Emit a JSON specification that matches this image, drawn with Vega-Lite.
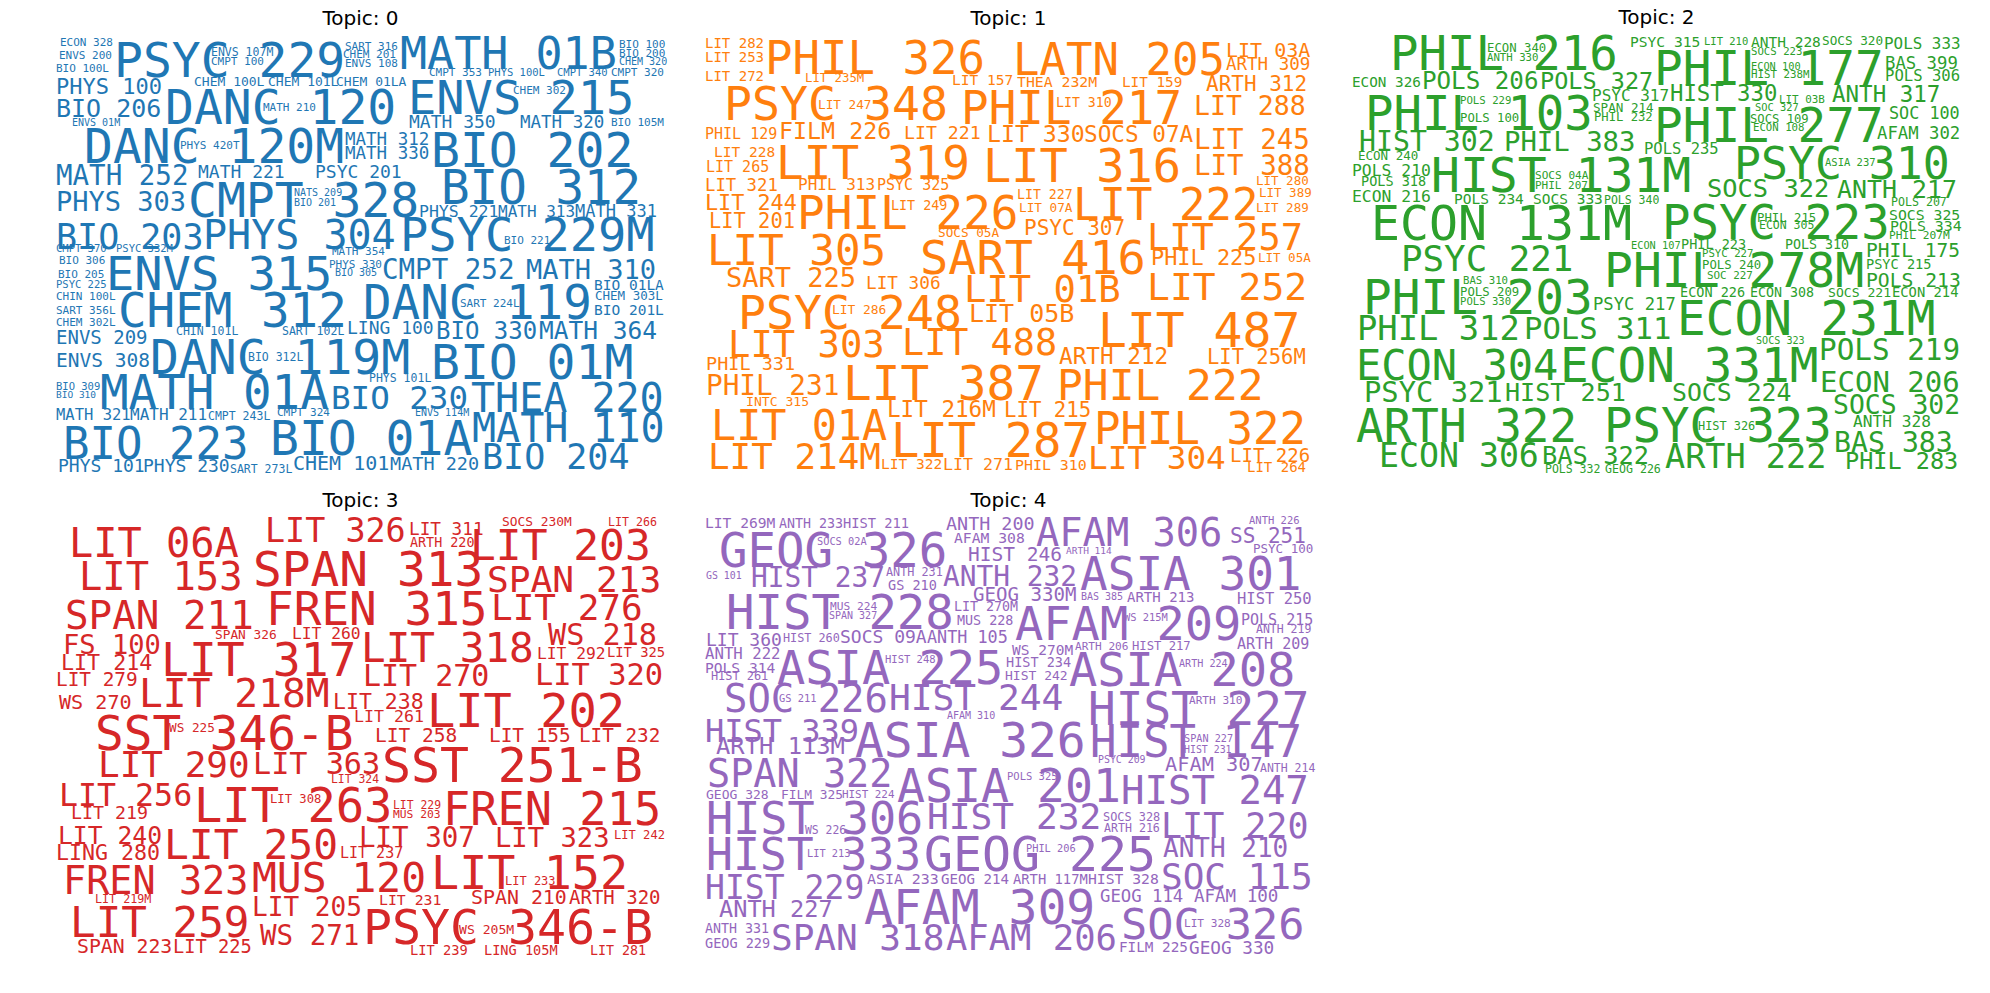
{
"$schema": "https://vega.github.io/schema/vega-lite/v6.json",
"padding": {"left": 55, "top": 8, "right": 5, "bottom": 5},
"background": "white",
"bounds": "flush",
"spacing": {"row": 43, "column": 37},
"columns": 3,
"config": {"view": {"stroke": null}, "title": {"fontSize": 20, "font": "DejaVu Sans", "fontWeight": "normal", "color": "black", "offset": 4, "anchor": "middle"}},
"resolve": {"scale": {"x": "independent", "y": "independent"}},
"datasets": {
"t0": [
{"w":"ECON 328","x":60,"y":44,"s":11},{"w":"ENVS 200","x":59,"y":57,"s":11},{"w":"BIO 100L","x":56,"y":70,"s":11},{"w":"PSYC 229","x":114,"y":75,"s":48},{"w":"ENVS 107M","x":211,"y":54,"s":11.5},{"w":"CMPT 100","x":211,"y":63,"s":11},{"w":"SART 316","x":345,"y":48,"s":11},{"w":"CHEM 201","x":343,"y":56,"s":11},{"w":"ENVS 108","x":345,"y":65,"s":11},{"w":"MATH 01B","x":400,"y":67,"s":45},{"w":"BIO 100","x":619,"y":46,"s":11},{"w":"BIO 200","x":619,"y":55,"s":11},{"w":"CHEM 320","x":619,"y":63,"s":10},{"w":"CMPT 320","x":611,"y":74,"s":11},{"w":"CMPT 353","x":429,"y":74,"s":11},{"w":"PHYS 100L","x":488,"y":74,"s":10.5},{"w":"CMPT 340","x":557,"y":74,"s":10.5},{"w":"PHYS 100","x":56,"y":92,"s":22},{"w":"CHEM 100L","x":194,"y":84,"s":13},{"w":"CHEM 101L","x":268,"y":84,"s":13},{"w":"CHEM 01LA","x":336,"y":84,"s":13},{"w":"ENVS 215","x":408,"y":112,"s":47},{"w":"CHEM 302","x":513,"y":92,"s":11},{"w":"BIO 206","x":56,"y":115,"s":25},{"w":"DANC 120","x":165,"y":122,"s":48},{"w":"MATH 210","x":263,"y":109,"s":11},{"w":"ENVS 01M","x":72,"y":124,"s":10},{"w":"MATH 350","x":409,"y":126,"s":18},{"w":"MATH 320","x":520,"y":126,"s":17.5},{"w":"BIO 105M","x":611,"y":124,"s":11},{"w":"DANC 120M","x":84,"y":161,"s":48},{"w":"PHYS 420T","x":180,"y":147,"s":11},{"w":"MATH 312","x":345,"y":143,"s":17.5},{"w":"MATH 330","x":345,"y":157,"s":17.5},{"w":"BIO 202","x":431,"y":165,"s":48},{"w":"MATH 252","x":56,"y":183,"s":27.5},{"w":"MATH 221","x":198,"y":176,"s":18},{"w":"PSYC 201","x":315,"y":176,"s":18},{"w":"BIO 312","x":441,"y":202,"s":47.5},{"w":"PHYS 303","x":56,"y":209,"s":27},{"w":"CMPT 328","x":188,"y":215,"s":48},{"w":"NATS 209","x":294,"y":194,"s":10},{"w":"BIO 201","x":294,"y":204,"s":10},{"w":"PHYS 221","x":419,"y":215,"s":16.5},{"w":"MATH 313","x":498,"y":215,"s":16},{"w":"MATH 331","x":575,"y":215,"s":17},{"w":"BIO 203","x":56,"y":247,"s":35},{"w":"PHYS 304","x":203,"y":247,"s":40},{"w":"PSYC 229M","x":400,"y":249,"s":47},{"w":"BIO 221","x":504,"y":242,"s":11},{"w":"CMPT 370","x":56,"y":250,"s":10.5},{"w":"PSYC 332M","x":116,"y":250,"s":10.5},{"w":"MATH 354","x":332,"y":253,"s":11},{"w":"BIO 306","x":59,"y":262,"s":11},{"w":"ENVS 315","x":106,"y":288,"s":47},{"w":"PHYS 330","x":329,"y":266,"s":11},{"w":"BIO 305","x":335,"y":274,"s":10},{"w":"CMPT 252","x":382,"y":277,"s":27.5},{"w":"MATH 310","x":526,"y":277,"s":27},{"w":"BIO 205","x":58,"y":276,"s":11},{"w":"PSYC 225","x":56,"y":286,"s":10.5},{"w":"CHIN 100L","x":56,"y":298,"s":11},{"w":"CHEM 312","x":118,"y":325,"s":47.5},{"w":"DANC 119","x":363,"y":317,"s":47.5},{"w":"SART 224L","x":460,"y":305,"s":11},{"w":"BIO 01LA","x":594,"y":288,"s":14.5},{"w":"CHEM 303L","x":595,"y":298,"s":12.5},{"w":"BIO 201L","x":594,"y":313,"s":14.5},{"w":"SART 356L","x":56,"y":312,"s":11},{"w":"CHEM 302L","x":56,"y":324,"s":11},{"w":"CHIN 101L","x":176,"y":333,"s":11.5},{"w":"SART 102L","x":282,"y":333,"s":11.5},{"w":"LING 100","x":347,"y":332,"s":18},{"w":"BIO 330","x":436,"y":337,"s":24},{"w":"MATH 364","x":539,"y":337,"s":24.5},{"w":"ENVS 209","x":56,"y":342,"s":19},{"w":"DANC 119M","x":150,"y":372,"s":48},{"w":"BIO 312L","x":248,"y":359,"s":11.5},{"w":"BIO 01M","x":431,"y":377,"s":48},{"w":"ENVS 308","x":56,"y":365,"s":19.5},{"w":"PHYS 101L","x":369,"y":380,"s":11.5},{"w":"BIO 309","x":56,"y":388,"s":10.5},{"w":"BIO 310","x":56,"y":396,"s":9.5},{"w":"MATH 01A","x":100,"y":407,"s":47.5},{"w":"BIO 230","x":331,"y":407,"s":32.5},{"w":"THEA 220","x":471,"y":410,"s":40},{"w":"MATH 321","x":56,"y":418,"s":15.5},{"w":"MATH 211","x":130,"y":418,"s":16},{"w":"CMPT 243L","x":208,"y":418,"s":11.5},{"w":"CMPT 324","x":277,"y":414,"s":11},{"w":"ENVS 114M","x":415,"y":414,"s":10},{"w":"MATH 110","x":472,"y":440,"s":40},{"w":"BIO 223","x":63,"y":457,"s":44},{"w":"BIO 01A","x":270,"y":453,"s":48},{"w":"BIO 204","x":482,"y":467,"s":35},{"w":"PHYS 101","x":58,"y":470,"s":18},{"w":"PHYS 230","x":143,"y":470,"s":18},{"w":"SART 273L","x":230,"y":471,"s":11.5},{"w":"CHEM 101","x":293,"y":468,"s":20},{"w":"MATH 220","x":390,"y":468,"s":18.5}
],
"t1": [
{"w":"LIT 282","x":705,"y":46,"s":14},{"w":"LIT 253","x":705,"y":60,"s":14},{"w":"PHIL 326","x":765,"y":72,"s":45.7},{"w":"LATN 205","x":1013,"y":73,"s":44},{"w":"LIT 03A","x":1226,"y":55,"s":20},{"w":"ARTH 309","x":1226,"y":68,"s":17.5},{"w":"LIT 272","x":705,"y":79,"s":14},{"w":"LIT 235M","x":805,"y":80,"s":12.3},{"w":"LIT 157","x":952,"y":83,"s":14.5},{"w":"THEA 232M","x":1017,"y":85,"s":14.8},{"w":"LIT 159","x":1122,"y":85,"s":14.3},{"w":"ARTH 312","x":1206,"y":89,"s":21},{"w":"PSYC 348","x":724,"y":118,"s":46.5},{"w":"LIT 247","x":818,"y":107,"s":12.7},{"w":"PHIL 217","x":961,"y":122,"s":45.9},{"w":"LIT 310","x":1056,"y":105,"s":13.2},{"w":"LIT 288","x":1194,"y":113,"s":26.5},{"w":"PHIL 129","x":705,"y":137,"s":15},{"w":"FILM 226","x":779,"y":137,"s":23.3},{"w":"LIT 221","x":904,"y":137,"s":18.2},{"w":"LIT 330","x":987,"y":140,"s":23.2},{"w":"SOCS 07A","x":1084,"y":140,"s":22.7},{"w":"LIT 245","x":1194,"y":147,"s":27.5},{"w":"LIT 228","x":714,"y":155,"s":14.5},{"w":"LIT 319","x":776,"y":177,"s":46},{"w":"LIT 316","x":983,"y":180,"s":47},{"w":"LIT 388","x":1194,"y":173,"s":27.5},{"w":"LIT 265","x":706,"y":170,"s":15},{"w":"LIT 321","x":705,"y":189,"s":17.3},{"w":"PHIL 313","x":798,"y":188,"s":16},{"w":"PSYC 325","x":877,"y":188,"s":15},{"w":"LIT 280","x":1256,"y":183,"s":12.5},{"w":"LIT 389","x":1259,"y":195,"s":12.5},{"w":"LIT 289","x":1256,"y":210,"s":12.5},{"w":"LIT 244","x":705,"y":208,"s":21.8},{"w":"PHIL 226","x":797,"y":227,"s":46},{"w":"LIT 249","x":891,"y":208,"s":13.4},{"w":"LIT 227","x":1017,"y":197,"s":13.2},{"w":"LIT 07A","x":1019,"y":210,"s":12.7},{"w":"LIT 222","x":1073,"y":218,"s":44},{"w":"LIT 201","x":709,"y":226,"s":20.4},{"w":"SOCS 05A","x":938,"y":235,"s":12.7},{"w":"PSYC 307","x":1024,"y":233,"s":21},{"w":"LIT 257","x":1147,"y":248,"s":37},{"w":"LIT 305","x":707,"y":263,"s":42.5},{"w":"SART 416","x":920,"y":272,"s":46.9},{"w":"PHIL 225","x":1151,"y":263,"s":21.9},{"w":"LIT 05A","x":1258,"y":260,"s":12.5},{"w":"SART 225","x":726,"y":285,"s":27},{"w":"LIT 306","x":866,"y":287,"s":17.7},{"w":"LIT 01B","x":964,"y":300,"s":37.2},{"w":"LIT 252","x":1147,"y":298,"s":38},{"w":"PSYC 248","x":738,"y":327,"s":46.5},{"w":"LIT 286","x":832,"y":312,"s":12.9},{"w":"LIT 05B","x":969,"y":320,"s":25},{"w":"LIT 487","x":1098,"y":345,"s":48},{"w":"LIT 303","x":728,"y":355,"s":37.2},{"w":"LIT 488","x":902,"y":353,"s":36.8},{"w":"ARTH 212","x":1059,"y":362,"s":22.7},{"w":"LIT 256M","x":1207,"y":362,"s":20.5},{"w":"PHIL 331","x":706,"y":368,"s":18.5},{"w":"PHIL 231","x":706,"y":393,"s":27.7},{"w":"LIT 387","x":843,"y":398,"s":47.7},{"w":"PHIL 222","x":1057,"y":398,"s":42.9},{"w":"INTC 315","x":746,"y":404,"s":13.1},{"w":"LIT 216M","x":887,"y":415,"s":22.6},{"w":"LIT 215","x":1004,"y":415,"s":20.7},{"w":"LIT 01A","x":711,"y":438,"s":41.8},{"w":"LIT 287","x":891,"y":455,"s":47.2},{"w":"PHIL 322","x":1094,"y":442,"s":44},{"w":"LIT 214M","x":708,"y":467,"s":35.9},{"w":"LIT 322","x":881,"y":467,"s":14.5},{"w":"LIT 271","x":943,"y":468,"s":16.6},{"w":"PHIL 310","x":1015,"y":468,"s":14.9},{"w":"LIT 304","x":1088,"y":467,"s":32.7},{"w":"LIT 226","x":1230,"y":460,"s":19},{"w":"LIT 264","x":1247,"y":470,"s":14}
],
"t2": [
{"w":"PHIL 216","x":1390,"y":68,"s":47.3},{"w":"ECON 340","x":1487,"y":50,"s":12.3},{"w":"ANTH 330","x":1487,"y":59,"s":10.7},{"w":"PSYC 315","x":1630,"y":45,"s":14.6},{"w":"LIT 210","x":1704,"y":43,"s":10.5},{"w":"ANTH 228","x":1751,"y":45,"s":14.5},{"w":"SOCS 320","x":1822,"y":43,"s":12.7},{"w":"POLS 333","x":1884,"y":47,"s":15.9},{"w":"SOCS 223","x":1751,"y":53,"s":10.7},{"w":"PHIL 177","x":1654,"y":83,"s":47.7},{"w":"ECON 100","x":1751,"y":68,"s":10.3},{"w":"HIST 238M","x":1751,"y":76,"s":10.8},{"w":"BAS 399","x":1885,"y":67,"s":17.3},{"w":"POLS 306","x":1885,"y":79,"s":15.6},{"w":"ECON 326","x":1352,"y":85,"s":14.3},{"w":"POLS 206","x":1422,"y":87,"s":24.2},{"w":"POLS 327","x":1540,"y":87,"s":23.5},{"w":"ANTH 317","x":1832,"y":100,"s":22.5},{"w":"PHIL 103","x":1365,"y":128,"s":47.3},{"w":"POLS 229","x":1460,"y":102,"s":10.7},{"w":"POLS 100","x":1460,"y":120,"s":12.3},{"w":"PSYC 317","x":1592,"y":99,"s":16},{"w":"SPAN 214","x":1593,"y":110,"s":12.6},{"w":"PHIL 232","x":1594,"y":119,"s":12.2},{"w":"HIST 330","x":1670,"y":99,"s":22.3},{"w":"LIT 03B","x":1779,"y":101,"s":10.9},{"w":"SOC 327","x":1755,"y":109,"s":10.4},{"w":"SOCS 109","x":1750,"y":121,"s":12.2},{"w":"ECON 108","x":1753,"y":129,"s":10.7},{"w":"PHIL 277","x":1654,"y":140,"s":47.7},{"w":"SOC 100","x":1889,"y":117,"s":16.8},{"w":"AFAM 302","x":1877,"y":137,"s":17.3},{"w":"HIST 302","x":1359,"y":149,"s":28.2},{"w":"PHIL 383","x":1504,"y":149,"s":27.3},{"w":"POLS 235","x":1644,"y":152,"s":15.5},{"w":"PSYC 310","x":1734,"y":177,"s":44.8},{"w":"ASIA 237","x":1825,"y":164,"s":10.5},{"w":"ECON 240","x":1358,"y":158,"s":12.5},{"w":"POLS 210","x":1352,"y":174,"s":16.4},{"w":"HIST 131M","x":1431,"y":190,"s":48},{"w":"SOCS 04A","x":1535,"y":177,"s":11.1},{"w":"PHIL 207","x":1535,"y":187,"s":11},{"w":"POLS 318","x":1361,"y":184,"s":13.5},{"w":"ANTH 217","x":1837,"y":196,"s":24.9},{"w":"SOCS 322","x":1707,"y":195,"s":25.4},{"w":"ECON 216","x":1352,"y":200,"s":16.4},{"w":"POLS 234","x":1454,"y":202,"s":14.5},{"w":"SOCS 333","x":1533,"y":202,"s":14.5},{"w":"POLS 340","x":1604,"y":202,"s":11.5},{"w":"POLS 207","x":1891,"y":204,"s":11.6},{"w":"SOCS 325","x":1889,"y":218,"s":14.8},{"w":"POLS 334","x":1890,"y":229,"s":14.9},{"w":"PHIL 207M","x":1889,"y":237,"s":11.2},{"w":"ECON 131M","x":1371,"y":238,"s":48.2},{"w":"PSYC 223","x":1662,"y":237,"s":47.3},{"w":"PHIL 215","x":1757,"y":220,"s":12.3},{"w":"ECON 305","x":1759,"y":227,"s":11.5},{"w":"PHIL 175","x":1866,"y":255,"s":19.5},{"w":"PSYC 215","x":1866,"y":267,"s":13.6},{"w":"POLS 213","x":1866,"y":285,"s":19.7},{"w":"ECON 214","x":1892,"y":295,"s":13.8},{"w":"SOCS 221","x":1828,"y":295,"s":13.1},{"w":"ECON 107","x":1631,"y":247,"s":10.3},{"w":"PHIL 223","x":1681,"y":247,"s":13.5},{"w":"POLS 310","x":1785,"y":247,"s":13.3},{"w":"PSYC 221","x":1401,"y":269,"s":35.8},{"w":"PSYC 227","x":1702,"y":255,"s":10.7},{"w":"POLS 240","x":1702,"y":267,"s":12.3},{"w":"SOC 227","x":1707,"y":277,"s":10.9},{"w":"PHIL 278M","x":1604,"y":285,"s":48},{"w":"BAS 310","x":1463,"y":282,"s":10.7},{"w":"POLS 209","x":1460,"y":294,"s":12.3},{"w":"POLS 330","x":1460,"y":303,"s":10.6},{"w":"PHIL 203","x":1363,"y":312,"s":47.7},{"w":"PSYC 217","x":1593,"y":308,"s":17.2},{"w":"ECON 226","x":1680,"y":295,"s":13.5},{"w":"ECON 308","x":1750,"y":295,"s":13.3},{"w":"ECON 231M","x":1677,"y":333,"s":47.7},{"w":"PHIL 312","x":1357,"y":338,"s":33.8},{"w":"POLS 311","x":1524,"y":337,"s":30.6},{"w":"SOCS 323","x":1756,"y":342,"s":10.1},{"w":"POLS 219","x":1819,"y":358,"s":29.3},{"w":"ECON 304","x":1356,"y":378,"s":42},{"w":"ECON 331M","x":1560,"y":380,"s":47.7},{"w":"ECON 206","x":1820,"y":390,"s":29},{"w":"PSYC 321","x":1364,"y":400,"s":28.8},{"w":"HIST 251","x":1505,"y":399,"s":25.1},{"w":"SOCS 224","x":1672,"y":399,"s":24.8},{"w":"SOCS 302","x":1833,"y":412,"s":26.4},{"w":"ANTH 328","x":1853,"y":425,"s":16.2},{"w":"ARTH 322","x":1356,"y":440,"s":45.9},{"w":"PSYC 323","x":1604,"y":440,"s":47.3},{"w":"HIST 326","x":1698,"y":428,"s":11.9},{"w":"BAS 383","x":1834,"y":450,"s":28.2},{"w":"ECON 306","x":1379,"y":465,"s":33.2},{"w":"BAS 322","x":1542,"y":462,"s":25.4},{"w":"ARTH 222","x":1665,"y":466,"s":33.5},{"w":"PHIL 283","x":1845,"y":467,"s":23.5},{"w":"POLS 332","x":1545,"y":471,"s":11.5},{"w":"GEOG 226","x":1605,"y":471,"s":11.6}
],
"t3": [
{"w":"LIT 06A","x":69,"y":555,"s":40.3},{"w":"LIT 326","x":265,"y":540,"s":33.4},{"w":"LIT 311","x":409,"y":533,"s":17.7},{"w":"ARTH 220","x":410,"y":545,"s":13.4},{"w":"SOCS 230M","x":502,"y":524,"s":12.9},{"w":"LIT 266","x":608,"y":524,"s":11.6},{"w":"LIT 203","x":470,"y":558,"s":42.9},{"w":"LIT 153","x":79,"y":588,"s":38.8},{"w":"SPAN 313","x":253,"y":584,"s":47.8},{"w":"SPAN 213","x":487,"y":590,"s":36.2},{"w":"SPAN 211","x":65,"y":627,"s":39.2},{"w":"FREN 315","x":266,"y":623,"s":46},{"w":"LIT 276","x":491,"y":618,"s":36},{"w":"SPAN 326","x":215,"y":637,"s":12.8},{"w":"LIT 260","x":292,"y":637,"s":16.3},{"w":"FS 100","x":63,"y":652,"s":27.1},{"w":"WS 218","x":548,"y":643,"s":30.2},{"w":"LIT 317","x":161,"y":674,"s":46.4},{"w":"LIT 318","x":361,"y":660,"s":41},{"w":"LIT 292","x":537,"y":657,"s":16.3},{"w":"LIT 325","x":607,"y":655,"s":13.8},{"w":"LIT 214","x":61,"y":668,"s":21.7},{"w":"LIT 279","x":56,"y":684,"s":19.4},{"w":"LIT 270","x":363,"y":684,"s":30},{"w":"LIT 320","x":535,"y":683,"s":30.4},{"w":"WS 270","x":59,"y":707,"s":20.1},{"w":"LIT 218M","x":139,"y":705,"s":39.6},{"w":"LIT 238","x":333,"y":707,"s":21.5},{"w":"LIT 202","x":427,"y":725,"s":47},{"w":"LIT 261","x":354,"y":720,"s":16.6},{"w":"SST 346-B","x":95,"y":748,"s":47.7},{"w":"WS 225","x":169,"y":730,"s":12.7},{"w":"LIT 258","x":375,"y":740,"s":19.5},{"w":"LIT 155","x":489,"y":740,"s":19.4},{"w":"LIT 232","x":579,"y":740,"s":19.3},{"w":"LIT 290","x":98,"y":775,"s":36},{"w":"LIT 363","x":253,"y":772,"s":30.2},{"w":"LIT 324","x":331,"y":781,"s":11.4},{"w":"SST 251-B","x":382,"y":780,"s":48.1},{"w":"LIT 256","x":59,"y":804,"s":31.6},{"w":"LIT 263","x":194,"y":820,"s":47.1},{"w":"LIT 308","x":270,"y":801,"s":12.2},{"w":"LIT 229","x":393,"y":807,"s":11.4},{"w":"MUS 203","x":393,"y":816,"s":11.3},{"w":"FREN 215","x":443,"y":823,"s":45.3},{"w":"LIT 219","x":71,"y":817,"s":18.3},{"w":"LIT 240","x":58,"y":842,"s":24.7},{"w":"LIT 250","x":164,"y":857,"s":41.3},{"w":"LIT 307","x":359,"y":845,"s":27.5},{"w":"LIT 323","x":495,"y":845,"s":27.2},{"w":"LIT 242","x":614,"y":837,"s":12.1},{"w":"LING 280","x":56,"y":858,"s":21.6},{"w":"LIT 237","x":340,"y":856,"s":15},{"w":"FREN 323","x":63,"y":892,"s":38.5},{"w":"MUS 120","x":252,"y":890,"s":41.3},{"w":"LIT 152","x":431,"y":887,"s":46.8},{"w":"LIT 233","x":505,"y":883,"s":12},{"w":"LIT 219M","x":95,"y":901,"s":11.7},{"w":"LIT 231","x":379,"y":903,"s":14.8},{"w":"SPAN 210","x":471,"y":902,"s":19.9},{"w":"ARTH 320","x":569,"y":902,"s":19},{"w":"LIT 205","x":252,"y":914,"s":26.1},{"w":"LIT 259","x":70,"y":935,"s":42.6},{"w":"WS 271","x":260,"y":943,"s":27.5},{"w":"PSYC 346-B","x":363,"y":942,"s":48.2},{"w":"WS 205M","x":459,"y":932,"s":13.1},{"w":"SPAN 223","x":77,"y":951,"s":19.8},{"w":"LIT 225","x":173,"y":951,"s":18.7},{"w":"LIT 239","x":410,"y":953,"s":13.7},{"w":"LING 105M","x":484,"y":953,"s":13.6},{"w":"LIT 281","x":590,"y":953,"s":13.3}
],
"t4": [
{"w":"LIT 269M","x":705,"y":526,"s":14.6},{"w":"ANTH 233","x":779,"y":526,"s":13.3},{"w":"HIST 211","x":843,"y":526,"s":13.7},{"w":"ANTH 200","x":946,"y":528,"s":18.4},{"w":"AFAM 306","x":1036,"y":544,"s":38.7},{"w":"ANTH 226","x":1249,"y":522,"s":10.5},{"w":"SS 251","x":1230,"y":541,"s":21},{"w":"GEOG 326","x":719,"y":565,"s":47.4},{"w":"SOCS 02A","x":817,"y":543,"s":10.3},{"w":"AFAM 308","x":954,"y":541,"s":14.7},{"w":"HIST 246","x":968,"y":559,"s":19.5},{"w":"ARTH 114","x":1066,"y":552,"s":9.5},{"w":"PSYC 100","x":1253,"y":551,"s":12.5},{"w":"GS 101","x":706,"y":577,"s":9.9},{"w":"HIST 237","x":751,"y":585,"s":27.8},{"w":"ANTH 231","x":886,"y":574,"s":11.8},{"w":"GS 210","x":888,"y":588,"s":13.5},{"w":"ANTH 232","x":943,"y":584,"s":27.8},{"w":"ASIA 301","x":1080,"y":588,"s":46},{"w":"GEOG 330M","x":973,"y":599,"s":19.1},{"w":"BAS 385","x":1081,"y":598,"s":10},{"w":"ARTH 213","x":1127,"y":600,"s":14},{"w":"HIST 250","x":1237,"y":602,"s":15.5},{"w":"HIST 228","x":726,"y":627,"s":47.3},{"w":"MUS 224","x":830,"y":608,"s":11.2},{"w":"SPAN 327","x":829,"y":617,"s":10},{"w":"LIT 270M","x":954,"y":609,"s":13.3},{"w":"MUS 228","x":957,"y":623,"s":13.4},{"w":"AFAM 209","x":1015,"y":638,"s":47},{"w":"WS 215M","x":1124,"y":619,"s":10.4},{"w":"POLS 215","x":1241,"y":623,"s":15},{"w":"ANTH 219","x":1256,"y":631,"s":11.5},{"w":"ARTH 209","x":1237,"y":647,"s":15},{"w":"LIT 360","x":706,"y":644,"s":18},{"w":"HIST 260","x":783,"y":640,"s":11.8},{"w":"SOCS 09A","x":840,"y":641,"s":18},{"w":"ANTH 105","x":927,"y":641,"s":16.8},{"w":"ANTH 222","x":705,"y":657,"s":15.7},{"w":"WS 270M","x":1012,"y":653,"s":14.5},{"w":"ARTH 206","x":1075,"y":648,"s":11.1},{"w":"HIST 217","x":1132,"y":648,"s":12.2},{"w":"POLS 314","x":705,"y":671,"s":14.6},{"w":"ASIA 225","x":777,"y":682,"s":47},{"w":"HIST 248","x":885,"y":661,"s":10.5},{"w":"HIST 234","x":1006,"y":665,"s":13.5},{"w":"HIST 242","x":1005,"y":678,"s":13},{"w":"ASIA 208","x":1069,"y":684,"s":47},{"w":"ARTH 224","x":1179,"y":665,"s":10.1},{"w":"HIST 261","x":711,"y":678,"s":11.9},{"w":"SOC 226","x":724,"y":710,"s":38.9},{"w":"GS 211","x":779,"y":700,"s":10.4},{"w":"HIST 244","x":889,"y":708,"s":36.2},{"w":"HIST 227","x":1088,"y":723,"s":46},{"w":"ARTH 310","x":1189,"y":702,"s":11.1},{"w":"HIST 339","x":705,"y":740,"s":32},{"w":"AFAM 310","x":947,"y":717,"s":10},{"w":"ASIA 326","x":855,"y":755,"s":47.9},{"w":"HIST 147","x":1090,"y":755,"s":44},{"w":"SPAN 227","x":1184,"y":740,"s":10.2},{"w":"HIST 231","x":1184,"y":751,"s":9.9},{"w":"ARTH 113M","x":716,"y":752,"s":23.8},{"w":"PSYC 209","x":1098,"y":761,"s":9.9},{"w":"AFAM 307","x":1165,"y":769,"s":20.3},{"w":"ANTH 214","x":1260,"y":770,"s":11.5},{"w":"SPAN 322","x":707,"y":785,"s":38.5},{"w":"ASIA 201","x":897,"y":800,"s":46.5},{"w":"POLS 325","x":1007,"y":778,"s":10.5},{"w":"HIST 247","x":1121,"y":802,"s":39},{"w":"GEOG 328","x":706,"y":797,"s":13},{"w":"FILM 325","x":781,"y":797,"s":12.9},{"w":"HIST 224","x":842,"y":796,"s":10.9},{"w":"HIST 306","x":706,"y":832,"s":45.1},{"w":"WS 226","x":805,"y":832,"s":11.4},{"w":"HIST 232","x":927,"y":827,"s":36.2},{"w":"SOCS 328","x":1103,"y":819,"s":11.9},{"w":"ARTH 216","x":1104,"y":830,"s":11.6},{"w":"LIT 220","x":1161,"y":836,"s":35},{"w":"HIST 333","x":706,"y":868,"s":44.7},{"w":"LIT 213","x":807,"y":855,"s":10.3},{"w":"GEOG 225","x":924,"y":869,"s":48.2},{"w":"PHIL 206","x":1026,"y":850,"s":10.3},{"w":"ANTH 210","x":1163,"y":855,"s":26},{"w":"HIST 229","x":705,"y":897,"s":33.1},{"w":"ASIA 233","x":867,"y":882,"s":14.9},{"w":"GEOG 214","x":941,"y":882,"s":14.1},{"w":"ARTH 117M","x":1013,"y":882,"s":13.8},{"w":"HIST 328","x":1088,"y":882,"s":14.7},{"w":"SOC 115","x":1161,"y":887,"s":36},{"w":"GEOG 114","x":1100,"y":900,"s":17.3},{"w":"AFAM 100","x":1194,"y":900,"s":17.5},{"w":"ANTH 227","x":719,"y":915,"s":23.6},{"w":"AFAM 309","x":864,"y":922,"s":48},{"w":"SOC 326","x":1121,"y":937,"s":43.5},{"w":"LIT 328","x":1184,"y":925,"s":11.1},{"w":"ANTH 331","x":705,"y":931,"s":13.3},{"w":"GEOG 229","x":705,"y":946,"s":13.5},{"w":"SPAN 318","x":771,"y":948,"s":36},{"w":"AFAM 206","x":946,"y":948,"s":35.5},{"w":"FILM 225","x":1119,"y":950,"s":14.3},{"w":"GEOG 330","x":1189,"y":952,"s":17.7}
]
},
"concat": [
{"data": {"name": "t0"}, "title": "Topic: 0", "width": 611, "height": 440,
 "mark": {"type": "text", "align": "left", "baseline": "alphabetic", "font": "DejaVu Sans Mono", "color": "#1f77b4"},
 "encoding": {"x": {"field": "x", "type": "quantitative", "scale": {"domain": [55, 666], "nice": false, "zero": false}, "axis": null},
  "y": {"field": "y", "type": "quantitative", "scale": {"domain": [31, 471], "nice": false, "zero": false, "reverse": true}, "axis": null},
  "size": {"field": "s", "type": "quantitative", "scale": null},
  "text": {"field": "w", "type": "nominal"}}},
{"data": {"name": "t1"}, "title": "Topic: 1", "width": 611, "height": 440,
 "mark": {"type": "text", "align": "left", "baseline": "alphabetic", "font": "DejaVu Sans Mono", "color": "#ff7f0e"},
 "encoding": {"x": {"field": "x", "type": "quantitative", "scale": {"domain": [703, 1314], "nice": false, "zero": false}, "axis": null},
  "y": {"field": "y", "type": "quantitative", "scale": {"domain": [31, 471], "nice": false, "zero": false, "reverse": true}, "axis": null},
  "size": {"field": "s", "type": "quantitative", "scale": null},
  "text": {"field": "w", "type": "nominal"}}},
{"data": {"name": "t2"}, "title": "Topic: 2", "width": 611, "height": 440,
 "mark": {"type": "text", "align": "left", "baseline": "alphabetic", "font": "DejaVu Sans Mono", "color": "#2ca02c"},
 "encoding": {"x": {"field": "x", "type": "quantitative", "scale": {"domain": [1351, 1962], "nice": false, "zero": false}, "axis": null},
  "y": {"field": "y", "type": "quantitative", "scale": {"domain": [31, 471], "nice": false, "zero": false, "reverse": true}, "axis": null},
  "size": {"field": "s", "type": "quantitative", "scale": null},
  "text": {"field": "w", "type": "nominal"}}},
{"data": {"name": "t3"}, "title": "Topic: 3", "width": 611, "height": 440,
 "mark": {"type": "text", "align": "left", "baseline": "alphabetic", "font": "DejaVu Sans Mono", "color": "#d62728"},
 "encoding": {"x": {"field": "x", "type": "quantitative", "scale": {"domain": [55, 666], "nice": false, "zero": false}, "axis": null},
  "y": {"field": "y", "type": "quantitative", "scale": {"domain": [514, 954], "nice": false, "zero": false, "reverse": true}, "axis": null},
  "size": {"field": "s", "type": "quantitative", "scale": null},
  "text": {"field": "w", "type": "nominal"}}},
{"data": {"name": "t4"}, "title": "Topic: 4", "width": 611, "height": 440,
 "mark": {"type": "text", "align": "left", "baseline": "alphabetic", "font": "DejaVu Sans Mono", "color": "#9467bd"},
 "encoding": {"x": {"field": "x", "type": "quantitative", "scale": {"domain": [703, 1314], "nice": false, "zero": false}, "axis": null},
  "y": {"field": "y", "type": "quantitative", "scale": {"domain": [514, 954], "nice": false, "zero": false, "reverse": true}, "axis": null},
  "size": {"field": "s", "type": "quantitative", "scale": null},
  "text": {"field": "w", "type": "nominal"}}}
]
}
